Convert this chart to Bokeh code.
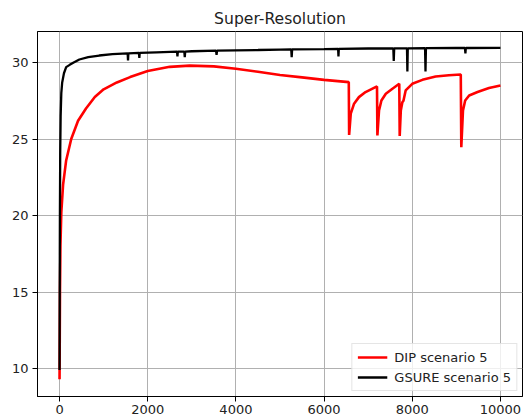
from bokeh.plotting import figure
from bokeh.models import FixedTicker, Range1d, Legend, LegendItem
from bokeh.embed import file_html
from bokeh.resources import INLINE

# ---- data ----
dip_iter = [0, 5, 10, 20, 40, 80, 150, 265, 420, 600,
            800, 1000, 1300, 1600, 2000, 2500, 2950, 3500, 4000, 4500,
            5000, 5500, 6000, 6560, 6568, 6605, 6680, 6790, 6940, 7200,
            7209, 7246, 7300, 7400, 7550, 7705, 7715, 7740, 7775, 7800,
            7850, 8000, 8230, 8530, 8830, 9100, 9112, 9150, 9200, 9290,
            9480, 9740, 10000]
dip_psnr = [9.3, 12.0, 15.0, 18.0, 20.2, 22.0, 23.6, 25.0, 26.2, 27.0,
            27.75, 28.25, 28.7, 29.05, 29.45, 29.72, 29.8, 29.75, 29.59, 29.4,
            29.19, 29.03, 28.87, 28.72, 25.27, 26.66, 27.31, 27.74, 28.07, 28.44,
            25.23, 26.87, 27.52, 27.96, 28.29, 28.61, 25.2, 26.87, 27.4, 27.5,
            28.18, 28.61, 28.87, 29.09, 29.17, 29.22, 24.46, 26.87, 27.52, 27.85,
            28.07, 28.33, 28.5]

gsure_iter = [0, 3, 8, 15, 25, 40, 60, 100, 150, 230,
              320, 450, 650, 900, 1200, 1545, 1553, 1561, 1800, 1810,
              1818, 2200, 2665, 2674, 2683, 2830, 2840, 2850, 3000, 3550,
              3561, 3572, 4000, 4500, 5000, 5255, 5265, 5275, 6000, 6318,
              6326, 6334, 7000, 7570, 7580, 7590, 7880, 7889, 7898, 8290,
              8300, 8310, 9000, 9195, 9205, 9215, 10000]
gsure_psnr = [9.9, 14.0, 20.0, 24.0, 26.5, 28.0, 28.7, 29.3, 29.7, 29.85,
              30.0, 30.2, 30.35, 30.46, 30.55, 30.6, 30.13, 30.6, 30.63, 30.3,
              30.63, 30.67, 30.72, 30.4, 30.72, 30.72, 30.35, 30.72, 30.74, 30.78,
              30.5, 30.78, 30.8, 30.82, 30.85, 30.86, 30.35, 30.86, 30.88, 30.9,
              30.4, 30.9, 30.92, 30.93, 30.1, 30.93, 30.93, 29.42, 30.93, 30.94,
              29.42, 30.94, 30.95, 30.95, 30.6, 30.95, 30.96]

x_ticks = [0, 2000, 4000, 6000, 8000, 10000]
y_ticks = [10, 15, 20, 25, 30]
title_text = "Super-Resolution"
labels = ["DIP scenario 5", "GSURE scenario 5"]

FONT = "DejaVu Sans"

p = figure(width=527, height=419, output_backend="svg", toolbar_location=None,
           x_range=Range1d(-500, 10500), y_range=Range1d(8.17, 32.03),
           title=title_text, min_border_left=37, min_border_right=5,
           min_border_top=31, min_border_bottom=23)
p.border_fill_color = "white"

p.title.align = "center"
p.title.text_font = FONT
p.title.text_font_size = "15.6px"
p.title.text_font_style = "normal"
p.title.text_color = "#222222"
p.title.standoff = 8

p.background_fill_color = "white"
p.outline_line_color = "black"
p.outline_line_width = 1
p.outline_line_alpha = 1

for ax, ticks in ((p.xaxis, x_ticks), (p.yaxis, y_ticks)):
    ax.ticker = FixedTicker(ticks=ticks)
    ax.major_label_text_font = FONT
    ax.major_label_text_font_size = "13px"
    ax.major_label_text_color = "#222222"
    ax.minor_tick_line_color = None
    ax.major_tick_in = 0
    ax.major_tick_out = 5
    ax.major_tick_line_color = "black"
    ax.axis_line_color = "black"
p.xaxis.major_label_standoff = 3
p.yaxis.major_label_standoff = 4

p.xgrid.ticker = FixedTicker(ticks=x_ticks)
p.ygrid.ticker = FixedTicker(ticks=y_ticks)
for g in (p.xgrid, p.ygrid):
    g.grid_line_color = "#b0b0b0"
    g.grid_line_width = 1

r1 = p.line(dip_iter, dip_psnr, line_color="#ff0000", line_width=2.6)
r2 = p.line(gsure_iter, gsure_psnr, line_color="#000000", line_width=2.3)

legend = Legend(items=[LegendItem(label=labels[0], renderers=[r1]),
                       LegendItem(label=labels[1], renderers=[r2])],
                location="bottom_right")
legend.label_text_font = FONT
legend.label_text_font_size = "13px"
legend.label_text_color = "#222222"
legend.glyph_width = 30
legend.glyph_height = 16
legend.label_height = 16
legend.label_standoff = 7
legend.spacing = 4
legend.padding = 5
legend.margin = 5
legend.border_line_color = "#cccccc"
legend.border_line_width = 1
legend.background_fill_alpha = 0.8
p.add_layout(legend)

open("out.html", "w").write(file_html(p, INLINE))
